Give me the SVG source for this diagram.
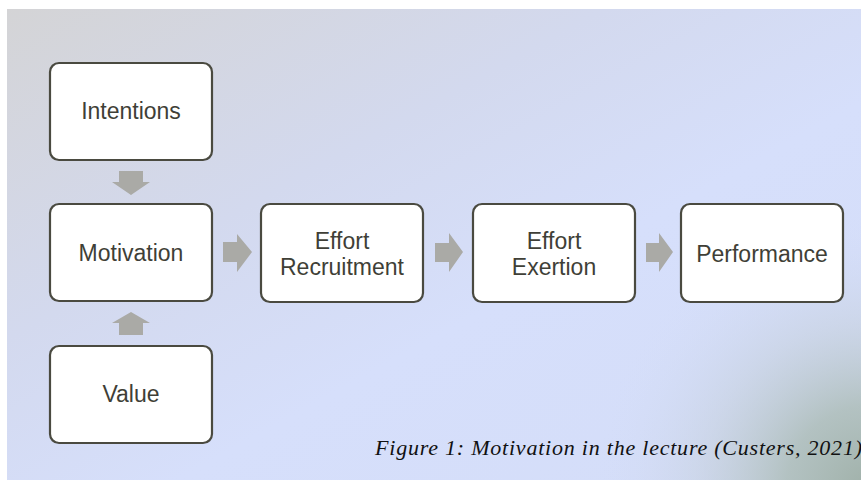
<svg xmlns="http://www.w3.org/2000/svg" width="861" height="480" viewBox="0 0 861 480">
<defs>
<linearGradient id="bg" x1="0" y1="0" x2="1" y2="1" gradientUnits="objectBoundingBox">
<stop offset="0" stop-color="#d4d4d6"/>
<stop offset="0.35" stop-color="#d3d9ee"/>
<stop offset="0.6" stop-color="#d6dffb"/>
<stop offset="1" stop-color="#d4ddf8"/>
</linearGradient>
<radialGradient id="corner" cx="870" cy="490" r="280" gradientUnits="userSpaceOnUse">
<stop offset="0" stop-color="#9fb0a8" stop-opacity="1"/>
<stop offset="0.3" stop-color="#adbdb8" stop-opacity="0.85"/>
<stop offset="0.6" stop-color="#c2cdd6" stop-opacity="0.45"/>
<stop offset="1" stop-color="#d6dffb" stop-opacity="0"/>
</radialGradient>
<style>
.box{fill:#ffffff;stroke:#4a4a40;stroke-width:2.2}
.lbl{font-family:"Liberation Sans",Arial,sans-serif;font-size:23px;fill:#3f3f37;text-anchor:middle}
.arr{fill:#aaaaa6}
.cap{font-family:"Liberation Serif","Times New Roman",serif;font-style:italic;font-size:22px;fill:#111111}
</style>
</defs>
<rect x="0" y="0" width="861" height="480" fill="#ffffff"/>
<rect x="7" y="9" width="854" height="471" fill="url(#bg)"/>
<rect x="7" y="9" width="854" height="471" fill="url(#corner)"/>

<g id="connectors">
<polygon class="arr" points="119,171 143,171 143,182 150,182 131,195 112,182 119,182"/>
<polygon class="arr" points="119,335 143,335 143,323 150,323 131,312 112,323 119,323"/>
<polygon class="arr" points="223,242 237,242 237,234 252,252 237,272 237,262 223,262"/>
<polygon class="arr" points="435,243 449,243 449,233 463,252 449,272 449,262 435,262"/>
<polygon class="arr" points="646,243 659,243 659,233 673,252 659,272 659,262 646,262"/>
</g>

<g id="intentions">
<rect class="box" x="50" y="63" width="162" height="97" rx="9"/>
<text class="lbl" x="131" y="119">Intentions</text>
</g>
<g id="motivation">
<rect class="box" x="50" y="204" width="162" height="97" rx="9"/>
<text class="lbl" x="131" y="261">Motivation</text>
</g>
<g id="value">
<rect class="box" x="50" y="346" width="162" height="97" rx="9"/>
<text class="lbl" x="131" y="402">Value</text>
</g>
<g id="effort-recruitment">
<rect class="box" x="261" y="204" width="162" height="98" rx="9"/>
<text class="lbl" x="342" y="249">Effort</text>
<text class="lbl" x="342" y="275">Recruitment</text>
</g>
<g id="effort-exertion">
<rect class="box" x="473" y="204" width="162" height="98" rx="9"/>
<text class="lbl" x="554" y="249">Effort</text>
<text class="lbl" x="554" y="275">Exertion</text>
</g>
<g id="performance">
<rect class="box" x="681" y="204" width="162" height="98" rx="9"/>
<text class="lbl" x="762" y="262">Performance</text>
</g>

<text class="cap" x="375" y="455" textLength="487" lengthAdjust="spacing">Figure 1: Motivation in the lecture (Custers, 2021)</text>
</svg>
